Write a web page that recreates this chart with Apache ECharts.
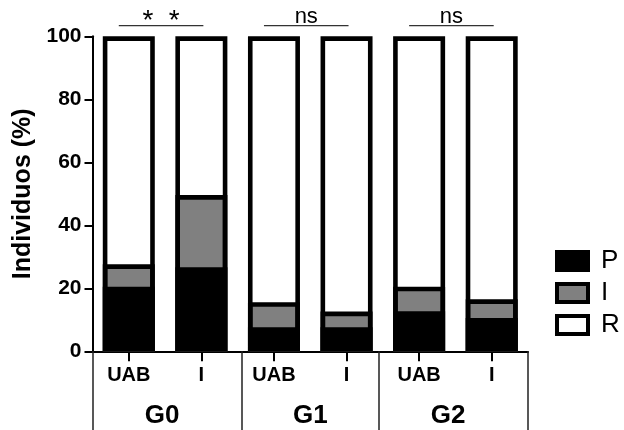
<!DOCTYPE html>
<html><head><meta charset="utf-8">
<script src="https://cdn.jsdelivr.net/npm/echarts@6/dist/echarts.min.js"></script>
<style>html,body{margin:0;padding:0;background:#fff}#c{width:624px;height:430px}</style>
</head><body><div id="c"></div>
<script>
const categories = ['UAB', 'I', 'UAB', 'I', 'UAB', 'I'];
const groups = ['G0', 'G1', 'G2'];
const seriesNames = ['P', 'I', 'R'];
const valuesP = [20.5, 26.7, 7.6, 7.6, 12.7, 10.6];
const valuesI = [7.1, 22.9, 8.0, 5.0, 7.8, 5.9];
const valuesR = [72.4, 50.4, 84.4, 87.4, 79.5, 83.5];
const yTicks = [0, 20, 40, 60, 80, 100];
const sigLabels = ['* *', 'ns', 'ns'];
const sigPairs = [[0, 1], [2, 3], [4, 5]];
const sigLevel = 103.4;

const FONT = "'Liberation Sans', Arial, Helvetica, sans-serif";
// group bracket layout, in category-slot units along the x axis (0..6)
const groupEdges = [0, 2.06, 3.95, 6];
const groupLabelPos = [0.96, 3.0, 4.9];

const cumP = valuesP.slice();
const cumI = categories.map((_, i) => valuesP[i] + valuesI[i]);
const cumR = categories.map((_, i) => valuesP[i] + valuesI[i] + valuesR[i]);

const common = {type: 'bar', barWidth: 52, barGap: '-100%', emphasis: {disabled: true}, silent: true, xAxisIndex: 0};
const series = [
  Object.assign({}, common, {name: 'R', data: cumR, z: 2,
    itemStyle: {color: '#ffffff', borderWidth: 0}}),
  Object.assign({}, common, {name: 'I', data: cumI, z: 2,
    itemStyle: {color: '#808080', borderColor: '#000', borderWidth: 4.6}}),
  Object.assign({}, common, {name: 'P', data: cumP, z: 2,
    itemStyle: {color: '#000000', borderWidth: 0}}),
  Object.assign({}, common, {name: 'outline', data: cumR, z: 3,
    itemStyle: {color: 'rgba(0,0,0,0)', borderColor: '#000', borderWidth: 4.6}})
];

const chart = echarts.init(document.getElementById('c'), null, {renderer: 'canvas'});
chart.setOption({
  animation: false,
  backgroundColor: '#ffffff',
  grid: {left: 92.5, right: 96, top: 36.3, bottom: 78.7, containLabel: false},
  legend: {
    orient: 'vertical', left: 550, top: 243,
    itemWidth: 31, itemHeight: 18, itemGap: 6,
    icon: 'rect',
    selectedMode: false,
    itemStyle: {borderColor: '#000', borderWidth: 4},
    textStyle: {fontFamily: FONT, fontSize: 26, color: '#000', lineHeight: 26, padding: [0, 0, 0, 8]},
    data: seriesNames
  },
  xAxis: [{
    type: 'category', data: categories, position: 'bottom',
    axisLine: {show: true, lineStyle: {color: '#000', width: 2}},
    axisTick: {show: true, alignWithLabel: true, length: 10, lineStyle: {color: '#000', width: 2}},
    axisLabel: {fontFamily: FONT, fontWeight: 'bold', fontSize: 20, color: '#000', margin: 14, interval: 0},
    splitLine: {show: false}
  }, {
    type: 'value', position: 'bottom', gridIndex: 0, min: 0, max: categories.length,
    axisLine: {show: false},
    axisTick: {show: true, length: 79, customValues: groupEdges, lineStyle: {color: '#222', width: 1.5}},
    axisLabel: {fontFamily: FONT, fontWeight: 'bold', fontSize: 26, color: '#000', margin: 52,
      customValues: groupLabelPos,
      formatter: function (v) { const i = groupLabelPos.indexOf(v); return i >= 0 ? groups[i] : ''; }},
    splitLine: {show: false}
  }],
  yAxis: {
    type: 'value', min: yTicks[0], max: yTicks[yTicks.length - 1], interval: yTicks[1] - yTicks[0],
    name: 'Individuos (%)', nameLocation: 'middle', nameGap: 47,
    nameTextStyle: {fontFamily: FONT, fontWeight: 'bold', fontSize: 25, color: '#000'},
    axisLine: {show: true, lineStyle: {color: '#000', width: 2}},
    axisTick: {show: true, length: 8, lineStyle: {color: '#000', width: 2}},
    axisLabel: {fontFamily: FONT, fontWeight: 'bold', fontSize: 21, color: '#000', margin: 11},
    splitLine: {show: false}
  },
  series: series
});

const g = [];
sigPairs.forEach((p, k) => {
  const x0 = chart.convertToPixel({xAxisIndex: 0}, p[0]) - 10;
  const x1 = chart.convertToPixel({xAxisIndex: 0}, p[1]) + 2;
  const y = chart.convertToPixel({yAxisIndex: 0}, sigLevel);
  g.push({type: 'line', silent: true, shape: {x1: x0, y1: y, x2: x1, y2: y}, style: {stroke: '#333', lineWidth: 1.2}});
  const star = sigLabels[k].indexOf('*') >= 0;
  const txt = star ? sigLabels[k].replace(' ', '  ') : sigLabels[k];
  g.push({type: 'text', silent: true, x: (x0 + x1) / 2, y: y + (star ? 10 : 2),
    style: {text: txt, fontFamily: FONT, fontSize: star ? 28 : 22, fill: '#000', align: 'center', verticalAlign: 'bottom'}});
});
chart.setOption({graphic: g});
</script>
</body></html>
